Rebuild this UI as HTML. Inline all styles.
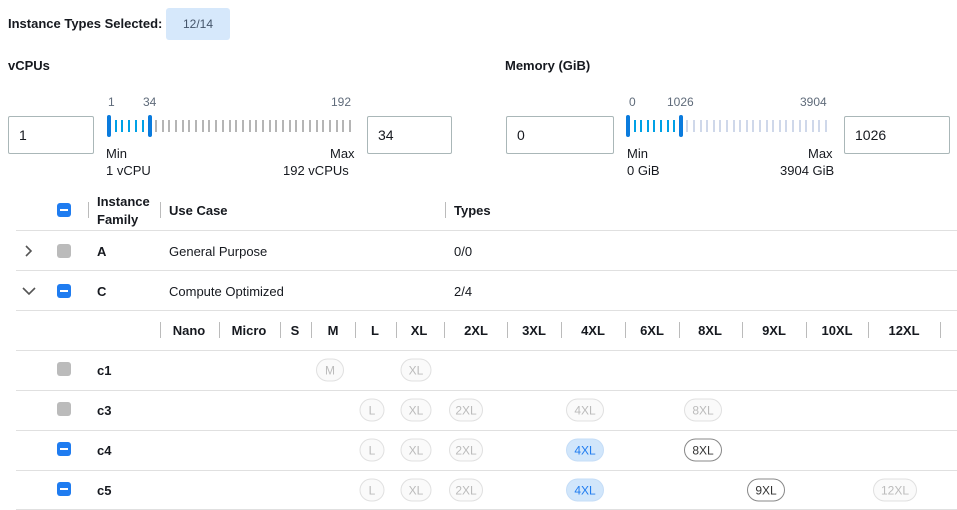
<!DOCTYPE html>
<html><head><style>
body{margin:0;width:957px;height:510px;background:#fff;font-family:"Liberation Sans",sans-serif;font-size:13px;color:#16191f;position:relative;overflow:hidden}
.a{position:absolute;white-space:nowrap}
.b{font-weight:bold}
.inp{position:absolute;border:1px solid #aab7b8;border-radius:2px;box-sizing:border-box;height:38px;font-size:14px;line-height:36px;padding-left:10px}
.hl{position:absolute;left:16px;right:0;height:1px;background:#e0e0e0}
.vs{position:absolute;width:1px;height:16px;background:#bbb}
.cb{position:absolute;width:14px;height:14px;border-radius:3px}
.cb.on{background:#1f7cf0}
.cb.on:after{content:"";position:absolute;left:3px;right:3px;top:6px;height:2px;background:#fff}
.cb.off{background:#bbb}
.pill{position:absolute;height:23px;line-height:23px;border-radius:12px;text-align:center;font-size:12px;box-sizing:border-box;border:1px solid #e0e0e0;color:#bbb;background:#fafafa;transform:translate(-50%,-50%)}
.pill.sel{background:#d1e6fb;border-color:#c5ddf7;color:#1f7cf0}
.pill.av{background:#fff;border-color:#888;color:#333}
.sh{position:absolute;transform:translateX(-50%);font-weight:bold;top:323px}
.sm{font-size:12px;color:#5f6b7a}
</style></head><body>
<div class="a b" style="left:8px;top:16px">Instance Types Selected:</div>
<div class="a" style="left:166px;top:8px;width:64px;height:32px;background:#d6e8fb;border-radius:3px;text-align:center;line-height:32px;color:#44546a;font-size:12px">12/14</div>
<div class="a b" style="left:8px;top:58px">vCPUs</div>
<div class="a b" style="left:505px;top:58px">Memory (GiB)</div>
<div class="inp" style="left:8px;top:116px;width:86px">1</div>
<div class="inp" style="left:367px;top:116px;width:85px">34</div>
<div class="inp" style="left:506px;top:116px;width:108px">0</div>
<div class="inp" style="left:844px;top:116px;width:106px">1026</div>
<svg class="a" style="left:0;top:0" width="957" height="190">
<g id="t1"></g>
<script>
</script>
</svg>
<div class="a sm" style="left:108px;top:95px">1</div>
<div class="a sm" style="left:143px;top:95px">34</div>
<div class="a sm" style="left:331px;top:95px">192</div>
<div class="a" style="left:106px;top:146px">Min</div>
<div class="a" style="left:106px;top:163px">1 vCPU</div>
<div class="a" style="left:330px;top:146px">Max</div>
<div class="a" style="left:283px;top:163px">192 vCPUs</div>
<div class="a sm" style="left:629px;top:95px">0</div>
<div class="a sm" style="left:667px;top:95px">1026</div>
<div class="a sm" style="left:800px;top:95px">3904</div>
<div class="a" style="left:627px;top:146px">Min</div>
<div class="a" style="left:627px;top:163px">0 GiB</div>
<div class="a" style="left:808px;top:146px">Max</div>
<div class="a" style="left:780px;top:163px">3904 GiB</div>
<div id="sl"></div>

<div class="cb on" style="left:57px;top:203px"></div>
<div class="vs" style="left:88px;top:202px"></div>
<div class="vs" style="left:160px;top:202px"></div>
<div class="vs" style="left:445px;top:202px"></div>
<div class="a b" style="left:97px;top:193px;line-height:18px">Instance<br>Family</div>
<div class="a b" style="left:169px;top:203px">Use Case</div>
<div class="a b" style="left:454px;top:203px">Types</div>
<div class="hl" style="top:230px"></div>
<svg class="a" style="left:23px;top:245px" width="12" height="12"><path d="M3 1 L8 6 L3 11" stroke="#555" stroke-width="1.6" fill="none"/></svg>
<div class="cb off" style="left:57px;top:244px"></div>
<div class="a b" style="left:97px;top:244px">A</div>
<div class="a" style="left:169px;top:244px">General Purpose</div>
<div class="a" style="left:454px;top:244px">0/0</div>
<div class="hl" style="top:270px"></div>
<svg class="a" style="left:22px;top:286px" width="14" height="10"><path d="M1 2 L7 8 L13 2" stroke="#555" stroke-width="1.6" fill="none"/></svg>
<div class="cb on" style="left:57px;top:284px"></div>
<div class="a b" style="left:97px;top:284px">C</div>
<div class="a" style="left:169px;top:284px">Compute Optimized</div>
<div class="a" style="left:454px;top:284px">2/4</div>
<div class="hl" style="top:310px"></div>
<div id="sz"></div>
<div class="hl" style="top:350px"></div>
<div class="hl" style="top:390px"></div>
<div class="hl" style="top:430px"></div>
<div class="hl" style="top:470px"></div>
<div class="hl" style="top:509px"></div>
<div class="cb off" style="left:57px;top:362px"></div><div class="a b" style="left:97px;top:363px">c1</div>
<div class="cb off" style="left:57px;top:402px"></div><div class="a b" style="left:97px;top:403px">c3</div>
<div class="cb on" style="left:57px;top:442px"></div><div class="a b" style="left:97px;top:443px">c4</div>
<div class="cb on" style="left:57px;top:482px"></div><div class="a b" style="left:97px;top:483px">c5</div>

<div class="pill" style="left:330px;top:370px;width:28px">M</div>
<div class="pill" style="left:416px;top:370px;width:31px">XL</div>
<div class="pill" style="left:372px;top:410px;width:25px">L</div>
<div class="pill" style="left:416px;top:410px;width:31px">XL</div>
<div class="pill" style="left:466px;top:410px;width:34px">2XL</div>
<div class="pill" style="left:585px;top:410px;width:38px">4XL</div>
<div class="pill" style="left:703px;top:410px;width:38px">8XL</div>
<div class="pill" style="left:372px;top:450px;width:25px">L</div>
<div class="pill" style="left:416px;top:450px;width:31px">XL</div>
<div class="pill" style="left:466px;top:450px;width:34px">2XL</div>
<div class="pill sel" style="left:585px;top:450px;width:38px">4XL</div>
<div class="pill av" style="left:703px;top:450px;width:38px">8XL</div>
<div class="pill" style="left:372px;top:490px;width:25px">L</div>
<div class="pill" style="left:416px;top:490px;width:31px">XL</div>
<div class="pill" style="left:466px;top:490px;width:34px">2XL</div>
<div class="pill sel" style="left:585px;top:490px;width:38px">4XL</div>
<div class="pill av" style="left:766px;top:490px;width:38px">9XL</div>
<div class="pill" style="left:895px;top:490px;width:44px">12XL</div>

<script>
var h='';
function slider(x0,x1,h1,n,grey){
 var step=(x1-x0)/(n-1);
 for(var i=0;i<n;i++){var x=x0+i*step;var c=x<h1?'#00a1e6':grey;
  h+='<div class="a" style="left:'+(x-1).toFixed(1)+'px;top:120px;width:2px;height:12px;background:'+c+'"></div>';}
 [x0,h1].forEach(function(x){h+='<div class="a" style="left:'+(x-2)+'px;top:115px;width:4px;height:22px;border-radius:2px;background:#0a7bdd"></div>';});
}
slider(109,350,150,37,'#b5b5b5');
slider(628,826,681,31,'#cfd8ea');
document.getElementById('sl').innerHTML=h;
var s='';
[160,219,280,311,355,396,444,507,561,625,679,742,806,868,940].forEach(function(x){s+='<div class="vs" style="left:'+x+'px;top:322px"></div>';});
[['Nano',189],['Micro',249],['S',295],['M',333],['L',375],['XL',419],['2XL',476],['3XL',534],['4XL',593],['6XL',652],['8XL',710],['9XL',774],['10XL',837],['12XL',904]].forEach(function(p){s+='<div class="sh" style="left:'+p[1]+'px">'+p[0]+'</div>';});
document.getElementById('sz').innerHTML=s;
</script>
</body></html>
